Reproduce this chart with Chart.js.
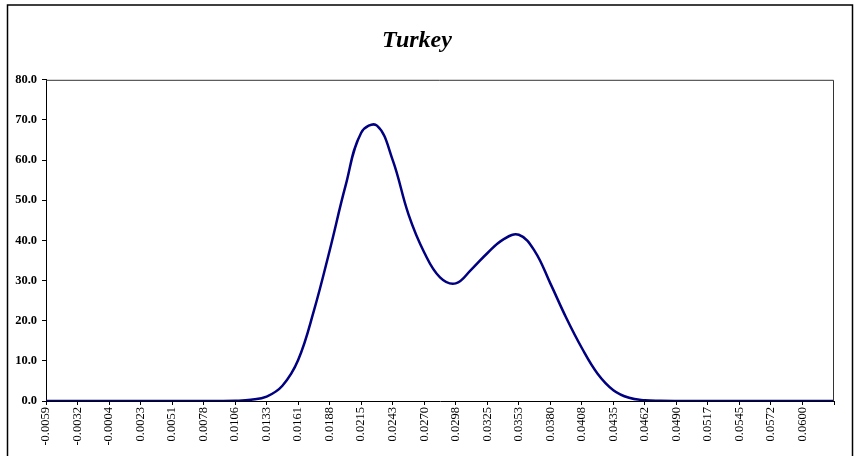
<!DOCTYPE html>
<html>
<head>
<meta charset="utf-8">
<script src="https://cdn.jsdelivr.net/npm/chart.js@4/dist/chart.umd.min.js"></script>
<style>
  html, body { margin: 0; padding: 0; background: #fff; }
  #wrap { position: relative; width: 854px; height: 456px; }
</style>
</head>
<body>
<div id="wrap"><canvas id="densityChart" width="854" height="456"></canvas></div>
<script>
// categories (every other one is labelled on the axis)
const categories = [
    '-0.0059', '-0.0045', '-0.0032', '-0.0018', '-0.0004', '0.0009', '0.0023', '0.0037',
    '0.0051', '0.0064', '0.0078', '0.0092', '0.0106', '0.0119', '0.0133', '0.0147',
    '0.0161', '0.0174', '0.0188', '0.0202', '0.0215', '0.0229', '0.0243', '0.0257',
    '0.0270', '0.0284', '0.0298', '0.0312', '0.0325', '0.0339', '0.0353', '0.0366',
    '0.0380', '0.0394', '0.0408', '0.0421', '0.0435', '0.0449', '0.0462', '0.0476',
    '0.0490', '0.0504', '0.0517', '0.0531', '0.0545', '0.0558', '0.0572', '0.0586',
    '0.0600', '0.0614', '0.0627'
];

const turkeyDensity = [
    0, 0, 0, 0, 0, 0, 0, 0,
    0, 0, 0, 0, 0.05, 0.3, 1.1, 3.8,
    10.2, 22.5, 37.5, 53.5, 66.8, 68.6, 60.0, 46.5,
    37.0, 30.8, 29.3, 32.8, 36.8, 40.2, 41.4, 37.4,
    29.3, 20.8, 13.2, 6.8, 2.7, 0.8, 0.2, 0.05,
    0, 0, 0, 0, 0, 0, 0, 0,
    0, 0, 0
];

const yTicks = [0, 10, 20, 30, 40, 50, 60, 70, 80];

const chartTitle = 'Turkey';

// frame round the chart and the plot area, like the spreadsheet original
const framePlugin = {
    id: 'frames',
    afterDraw(chart) {
        const ctx = chart.ctx;
        const a = chart.chartArea;
        ctx.save();
        ctx.strokeStyle = '#333';
        ctx.lineWidth = 1;
        ctx.beginPath();
        ctx.moveTo(a.left, a.top + 0.5);
        ctx.lineTo(a.right - 0.5, a.top + 0.5);
        ctx.lineTo(a.right - 0.5, a.bottom);
        ctx.stroke();
        ctx.strokeStyle = '#000';
        ctx.lineWidth = 1.5;
        ctx.strokeRect(7.5, 5, 845, 520);
        ctx.restore();
    }
};

const ctx = document.getElementById('densityChart');
new Chart(ctx, {
    type: 'line',
    data: {
        labels: categories,
        datasets: [{
            label: chartTitle,
            data: turkeyDensity,
            borderColor: '#000080',
            borderWidth: 2.5,
            pointRadius: 0,
            tension: 0.4,
            fill: false
        }]
    },
    options: {
        responsive: false,
        animation: false,
        layout: { padding: { left: 0, right: 20, top: 0, bottom: 0 } },
        plugins: {
            legend: { display: false },
            tooltip: { enabled: false },
            title: {
                display: true,
                text: chartTitle,
                color: '#000',
                font: { family: 'Liberation Serif', size: 24, weight: 'bold', style: 'italic' },
                padding: { top: 26, bottom: 25 }
            }
        },
        scales: {
            x: {
                type: 'category',
                offset: false,
                afterFit: (s) => { s.height = 55; },
                grid: {
                    drawOnChartArea: false,
                    drawTicks: true,
                    tickLength: 4,
                    color: (c) => (c.index % 2 === 0 ? '#000' : 'rgba(0,0,0,0)')
                },
                border: { color: '#000', width: 1 },
                ticks: {
                    autoSkip: false,
                    minRotation: 90,
                    maxRotation: 90,
                    padding: 2,
                    color: '#000',
                    font: { family: 'Liberation Serif', size: 12.5 },
                    callback: function (value, index) {
                        if (index % 2 !== 0 || index === categories.length - 1) return '';
                        return categories[index];
                    }
                }
            },
            y: {
                min: 0,
                max: 80,
                afterFit: (s) => { s.width = 46; },
                afterBuildTicks: (s) => { s.ticks = yTicks.map(v => ({ value: v })); },
                grid: {
                    drawOnChartArea: false,
                    drawTicks: true,
                    tickLength: 4,
                    color: '#000'
                },
                border: { color: '#000', width: 1 },
                ticks: {
                    padding: 5,
                    color: '#000',
                    font: { family: 'Liberation Serif', size: 12.5, weight: 'bold' },
                    callback: (v) => Number(v).toFixed(1)
                }
            }
        }
    },
    plugins: [framePlugin]
});
</script>
</body>
</html>
